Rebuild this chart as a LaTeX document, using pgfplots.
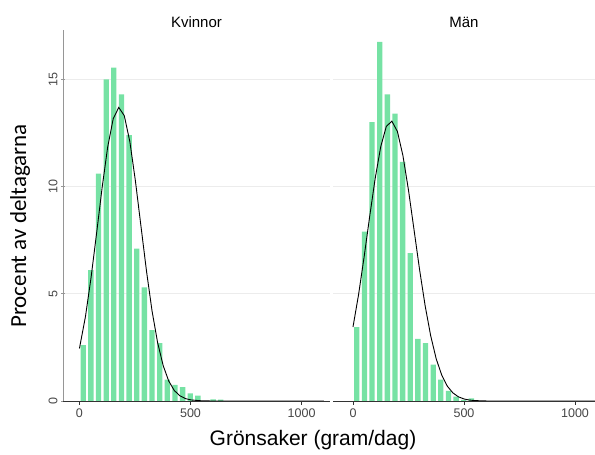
\documentclass[border=0pt]{standalone}
\usepackage{pgfplots}
\pgfplotsset{compat=1.18}
\usepackage{fontspec}
\setmainfont{Liberation Sans}
\newfontfamily\ylabfont{Carlito}
\definecolor{barc}{RGB}{118,226,164}
\definecolor{gridc}{RGB}{236,236,236}
\definecolor{axc}{RGB}{150,150,150}
\definecolor{tickc}{RGB}{70,70,70}

\pgfplotstableread{
x y
17.2 2.6
51.6 6.1
86.0 10.6
120.4 15.0
154.8 15.55
189.2 14.3
223.6 12.4
258.0 7.1
292.4 5.3
326.8 3.3
361.2 2.7
395.6 1.0
430.0 0.75
464.4 0.65
498.8 0.35
533.2 0.25
602.0 0.08
636.4 0.06
}\kvbars

\pgfplotstableread{
x y
17.2 3.45
51.6 7.9
86.0 13.0
120.4 16.75
154.8 14.3
189.2 13.4
223.6 11.15
258.0 6.9
292.4 2.9
326.8 2.7
361.2 1.7
395.6 1.0
430.0 0.47
464.4 0.2
498.8 0.05
533.2 0.12
}\mbars

\pgfplotstableread{
x y
0 2.45
27 3.93
52 5.73
77 7.80
102 9.94
127 11.83
152 13.16
177 13.69
202 13.30
227 12.09
252 10.26
277 8.15
302 6.05
327 4.19
352 2.72
377 1.65
402 0.93
427 0.49
452 0.244
477 0.113
502 0.049
552 0.007
602 0
1100 0
}\kvcurve

\pgfplotstableread{
x y
0 3.45
25 4.95
50 6.71
75 8.59
100 10.38
125 11.86
150 12.80
175 13.05
200 12.57
225 11.44
250 9.83
275 7.98
300 6.12
325 4.44
350 3.04
375 1.96
400 1.20
425 0.69
450 0.377
475 0.194
500 0.095
525 0.043
550 0.019
600 0.002
1100 0
}\mcurve

\pgfplotsset{
  panel/.style={
    scale only axis,
    anchor=south west,
    height=371pt,
    ymin=0, ymax=17.3,
    xtick={0,500,1000},
    ytick={0,5,10,15},
    ymajorgrids,
    grid style={gridc, line width=0.9pt},
    tick align=outside,
    major tick length=4pt,
    /pgf/number format/assume math mode=true,
    /pgf/number format/set thousands separator={},
    ticklabel style={font=\fontsize{12.5}{14}\selectfont, text=tickc},
    separate axis lines,
    axis x line=bottom,
    axis y line=left,
    xtick pos=bottom,
    ytick pos=left,
    axis line style={draw=none},
    xtick style={black!80, line width=0.6pt},
    title style={font=\fontsize{15}{17}\selectfont, yshift=-7pt},
    ybar, bar width=24, bar shift=0pt,
    clip=false,
  },
}

\begin{document}
\begin{tikzpicture}
\path[use as bounding box] (0,0) rectangle (595pt,455pt);

\begin{axis}[panel,
  at={(63pt,54pt)}, width=267pt,
  xmin=-74, xmax=1128,
  ytick style={axc, line width=0.6pt},
  yticklabel style={rotate=90, anchor=south},
  title={Kvinnor},
]
\addplot[fill=barc, draw=none] table[x=x, y=y] {\kvbars};
\addplot[sharp plot, black, line width=0.9pt] table[x=x, y=y] {\kvcurve};
\draw[axc, line width=0.7pt] (rel axis cs:0,0) -- (rel axis cs:0,1);
\draw[black!80, line width=0.7pt] (rel axis cs:0,0) -- (rel axis cs:1,0);
\end{axis}

\begin{axis}[panel,
  at={(333pt,54pt)}, width=262pt,
  xmin=-90, xmax=1090,
  ytick style={draw=none},
  yticklabels={},
  title={Män},
]
\addplot[fill=barc, draw=none] table[x=x, y=y] {\mbars};
\addplot[sharp plot, black, line width=0.9pt] table[x=x, y=y] {\mcurve};
\draw[black!80, line width=0.7pt] (rel axis cs:0,0) -- (rel axis cs:1,0);
\end{axis}

\node[font=\fontsize{21}{24}\selectfont] at (313pt,15pt) {Grönsaker (gram/dag)};
\node[font=\ylabfont\fontsize{23}{26}\selectfont, rotate=90] at (20pt,229pt) {Procent av deltagarna};
\end{tikzpicture}
\end{document}
